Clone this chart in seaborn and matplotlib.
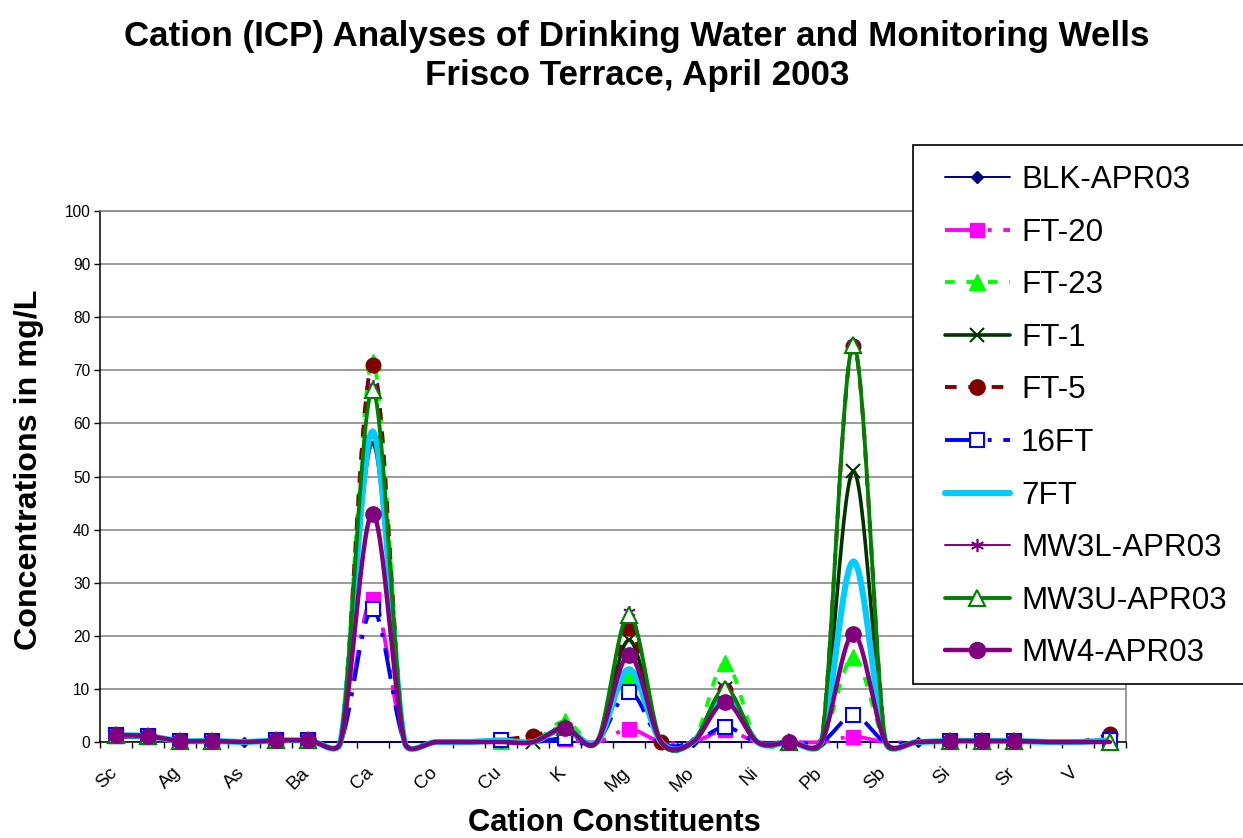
import numpy as np
import pandas as pd
import matplotlib
matplotlib.use("Agg")
import matplotlib.pyplot as plt
from matplotlib.lines import Line2D
from matplotlib.patches import Rectangle
from matplotlib.ticker import FixedLocator, NullFormatter
from matplotlib.transforms import ScaledTranslation
import seaborn as sns

# ICP cation list (every other element is labelled on the axis)
elements = ["Sc", "Y", "Ag", "Al", "As", "B", "Ba", "Be", "Ca", "Cd", "Co", "Cr",
            "Cu", "Fe", "K", "Li", "Mg", "Mn", "Mo", "Na", "Ni", "P", "Pb", "S",
            "Sb", "Se", "Si", "Sn", "Sr", "Ti", "V", "Zn"]

N = None  # not reported (plotted as zero, no marker)

blk_apr03 = [0.8, 0.7, 0.0, 0.0, 0.0, 0.0, 0.0, N, N, N, N, N, N, N, N, N,
             N, N, 0.0, N, N, N, 0.0, N, N, 0.0, N, N, N, N, N, N]
ft_20 = [1.2, 1.0, 0.2, 0.2, N, 0.3, 0.3, N, 27.0, N, N, N, N, N, 0.5, N,
         2.4, N, N, 2.2, N, N, N, 1.0, N, N, 0.2, 0.2, 0.2, N, N, N]
ft_23 = [1.3, 1.1, 0.2, 0.2, N, 0.3, 0.3, N, 71.5, N, N, N, 0.2, N, 3.9, N,
         12.6, N, N, 14.9, N, 0.0, N, 16.0, N, N, 0.2, 0.2, 0.2, N, N, 0.0]
ft_1 = [1.2, 1.0, 0.2, 0.2, N, 0.3, 0.3, N, 56.3, N, N, N, N, 0.0, 2.3, N,
        19.2, N, N, 10.0, N, N, N, 51.0, N, N, 0.2, 0.2, 0.2, N, N, N]
ft_5 = [1.3, 1.1, 0.2, 0.2, N, 0.3, 0.3, N, 71.0, N, N, N, 0.4, 1.2, 2.5, N,
        21.4, 0.0, N, 9.8, N, N, N, 74.6, N, N, 0.2, 0.2, 0.2, N, N, 1.5]
ft16 = [1.3, 1.1, 0.2, 0.2, N, 0.3, 0.3, N, 25.0, N, N, N, 0.3, N, 0.7, N,
        9.5, N, N, 2.8, N, N, N, 5.0, N, N, 0.2, 0.2, 0.2, N, N, 0.3]
ft7 = [1.3, 1.1, 0.2, 0.2, N, 0.3, 0.3, N, 58.5, N, N, N, 0.3, N, 2.6, N,
       13.7, N, N, 9.0, N, N, N, 34.0, N, N, 0.2, 0.2, 0.2, N, N, 0.3]
mw3l_apr03 = [1.2, 1.0, 0.2, 0.2, N, 0.3, 0.3, N, 67.0, N, N, N, N, N, 2.7, N,
              24.5, N, N, 10.3, N, N, N, 75.0, N, N, 0.2, 0.2, 0.2, N, N, N]
mw3u_apr03 = [1.3, 1.1, 0.2, 0.2, N, 0.3, 0.3, N, 66.3, N, N, N, N, N, 2.8, N,
              23.9, N, N, 10.0, N, 0.0, N, 74.8, N, N, 0.2, 0.2, 0.2, N, N, 0.0]
mw4_apr03 = [1.3, 1.1, 0.2, 0.2, N, 0.3, 0.3, N, 43.0, N, N, N, N, N, 2.6, N,
             16.4, N, N, 7.5, N, 0.0, N, 20.3, N, N, 0.2, 0.2, 0.2, N, N, N]

sample_names = ["BLK-APR03", "FT-20", "FT-23", "FT-1", "FT-5", "16FT", "7FT",
                "MW3L-APR03", "MW3U-APR03", "MW4-APR03"]
sample_values = [blk_apr03, ft_20, ft_23, ft_1, ft_5, ft16, ft7,
                 mw3l_apr03, mw3u_apr03, mw4_apr03]

# line / marker styling per sample
styles = {
    "BLK-APR03":  dict(color="#000080", lw=1.4, ls="-", marker="D", ms=5.5, mfc="#000080", mew=1.0),
    "FT-20":      dict(color="#FF00FF", lw=2.8, ls=(0, (8, 3, 1, 3)), marker="s", ms=9.5, mfc="#FF00FF", mew=1.0),
    "FT-23":      dict(color="#00FF00", lw=2.8, ls=(0, (2.5, 3)), marker="^", ms=11.5, mfc="#00FF00", mew=1.0),
    "FT-1":       dict(color="#003300", lw=2.6, ls="-", marker="x", ms=10, mfc="none", mew=1.5),
    "FT-5":       dict(color="#800000", lw=2.8, ls=(0, (3, 3)), marker="o", ms=10.5, mfc="#800000", mew=1.0),
    "16FT":       dict(color="#0000FF", lw=2.8, ls=(0, (8, 3, 1, 3)), marker="s", ms=9.5, mfc="white", mew=1.5),
    "7FT":        dict(color="#00CCFF", lw=4.4, ls="-", marker=None, ms=0, mfc="none", mew=0),
    "MW3L-APR03": dict(color="#800080", lw=1.4, ls="-", marker=(6, 2, 0), ms=9, mfc="#800080", mew=1.2),
    "MW3U-APR03": dict(color="#008000", lw=2.8, ls="-", marker="^", ms=11.5, mfc="white", mew=1.5),
    "MW4-APR03":  dict(color="#800080", lw=3.2, ls="-", marker="o", ms=11, mfc="#800080", mew=1.0),
}

W, H, DPI = 12.43, 8.38, 100
sns.set_style("white")
plt.rcParams["font.family"] = ["Liberation Sans", "DejaVu Sans"]
plt.rcParams.update({"text.color": "black", "axes.labelcolor": "black",
                     "xtick.color": "black", "ytick.color": "black"})

fig = plt.figure(figsize=(W, H), dpi=DPI)
ax_left, ax_bottom = 100 / 1243, 1 - 742 / 838
ax_w, ax_h = 1026 / 1243, 531 / 838
ax = fig.add_axes([ax_left, ax_bottom, ax_w, ax_h])

n_cat = len(elements)
x_idx = np.arange(n_cat)
# screen scale (pixels per category / per mg/L) used for the smoothing
sx = ax_w * W * DPI / n_cat
sy = ax_h * H * DPI / 100.0


def smooth_curve(xs, ys, n=30):
    """Bezier smoothing through every point, control arms limited to half a segment."""
    pts = np.column_stack([np.asarray(xs, float) * sx, np.asarray(ys, float) * sy])
    m = len(pts)
    segs = []
    for i in range(m - 1):
        p0 = pts[i - 1] if i > 0 else pts[i]
        p1, p2 = pts[i], pts[i + 1]
        p3 = pts[i + 2] if i + 2 < m else pts[i + 1]
        d12 = np.hypot(*(p2 - p1))
        d02 = np.hypot(*(p2 - p0))
        d13 = np.hypot(*(p3 - p1))
        f1 = f2 = 1 / 6
        if d02 > 0 and d02 / 6 > d12 / 2:
            f1 = d12 / (2 * d02)
        if d13 > 0 and d13 / 6 > d12 / 2:
            f2 = d12 / (2 * d13)
        c1 = p1 + (p2 - p0) * f1
        c2 = p2 - (p3 - p1) * f2
        t = np.linspace(0, 1, n, endpoint=(i == m - 2))[:, None]
        segs.append((1 - t) ** 3 * p1 + 3 * (1 - t) ** 2 * t * c1
                    + 3 * (1 - t) * t ** 2 * c2 + t ** 3 * p2)
    out = np.vstack(segs)
    return out[:, 0] / sx, out[:, 1] / sy


handles = []
for k, (name, vals) in enumerate(zip(sample_names, sample_values)):
    st = styles[name]
    filled = np.array([0.0 if v is None else v for v in vals])
    cx, cy = smooth_curve(x_idx, filled)
    curve = pd.DataFrame({"x": cx, "y": cy})
    sns.lineplot(data=curve, x="x", y="y", ax=ax, sort=False, estimator=None,
                 color=st["color"], linewidth=st["lw"], linestyle=st["ls"],
                 clip_on=False, zorder=3 + k * 0.1)
    if st["marker"] is not None:
        known = [(i, v) for i, v in enumerate(vals) if v is not None]
        mx = [i for i, _ in known]
        my = [v for _, v in known]
        ax.plot(mx, my, linestyle="none", marker=st["marker"], markersize=st["ms"],
                markerfacecolor=st["mfc"], markeredgecolor=st["color"],
                markeredgewidth=st["mew"], clip_on=False, zorder=3 + k * 0.1 + 0.05)
    handles.append(Line2D([], [], color=st["color"], linewidth=st["lw"], linestyle=st["ls"],
                          marker=st["marker"], markersize=st["ms"] * 1.05,
                          markerfacecolor=st["mfc"], markeredgecolor=st["color"],
                          markeredgewidth=st["mew"], label=name))

# axes, ticks and grid
ax.set_xlim(-0.5, n_cat - 0.5)
ax.set_ylim(0, 100)
ax.set_xlabel("")
ax.set_ylabel("")
ax.set_yticks(np.arange(0, 101, 10))
ax.yaxis.grid(True, color="#808080", linewidth=1.1)
ax.xaxis.grid(False)
ax.set_axisbelow(True)
ax.tick_params(axis="y", direction="out", length=4, width=1, color="black",
               labelsize=11.2, pad=3, left=True)

label_pos = x_idx[::2]
ax.xaxis.set_major_locator(FixedLocator(label_pos))
ax.set_xticklabels(elements[::2], rotation=45, ha="right", rotation_mode="anchor",
                   fontsize=13.5)
ax.tick_params(axis="x", which="major", length=0, pad=16)
shift = ScaledTranslation(-8 / DPI, 0, fig.dpi_scale_trans)
for lab in ax.get_xticklabels():
    lab.set_transform(lab.get_transform() + shift)
ax.xaxis.set_minor_locator(FixedLocator(np.arange(-0.5, n_cat, 1.0)))
ax.xaxis.set_minor_formatter(NullFormatter())
ax.tick_params(axis="x", which="minor", direction="out", length=4, width=1,
               color="black", bottom=True)

for side in ("top", "right"):
    ax.spines[side].set_color("#808080")
    ax.spines[side].set_linewidth(1.1)
for side in ("left", "bottom"):
    ax.spines[side].set_color("black")
    ax.spines[side].set_linewidth(1.1)
    ax.spines[side].set_zorder(2.5)

# titles
fig.text(637 / 1243, 1 - 56 / 838,
         "Cation (ICP) Analyses of Drinking Water and Monitoring Wells\nFrisco Terrace, April 2003",
         ha="center", va="center", fontsize=25.2, fontweight="bold", linespacing=1.22)
fig.text(29 / 1243, 1 - 470 / 838, "Concentrations in mg/L", rotation=90,
         ha="center", va="center", fontsize=23.2, fontweight="bold")
fig.text(614 / 1243, 1 - 823 / 838, "Cation Constituents",
         ha="center", va="center", fontsize=22.2, fontweight="bold")

# legend box (runs off the right edge of the figure) and entries
fig.patches.append(Rectangle((913 / 1243, 1 - 684 / 838), 340 / 1243, 539 / 838,
                             transform=fig.transFigure, facecolor="white",
                             edgecolor="black", linewidth=1.2, zorder=5))
leg = fig.legend(handles=handles, loc="upper left",
                 bbox_to_anchor=(945 / 1243, 1 - 165 / 838), fontsize=22.6,
                 frameon=False, borderpad=0, labelspacing=0.72,
                 handlelength=2.07, handletextpad=0.35, borderaxespad=0)
leg.set_zorder(6)

fig.savefig("out.png", dpi=DPI)
